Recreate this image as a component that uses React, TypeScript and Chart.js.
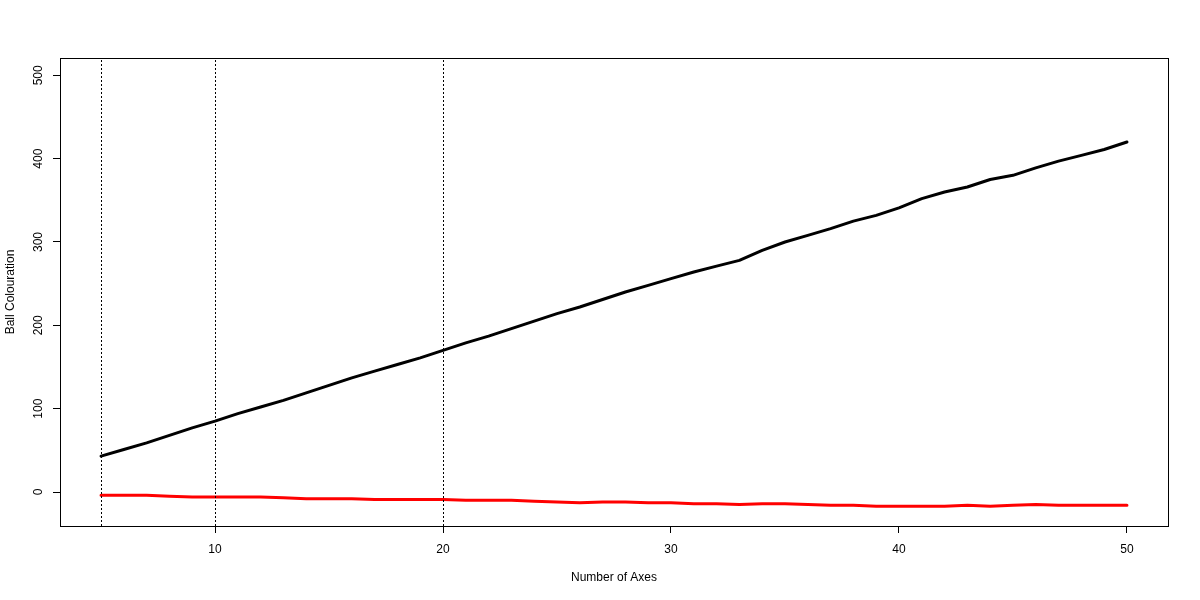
import React, { useEffect, useRef } from "react";
import { Chart, registerables } from "chart.js";

Chart.register(...registerables);

const xValues = [5, 6, 7, 8, 9, 10, 11, 12, 13, 14, 15, 16, 17, 18, 19, 20, 21, 22, 23, 24, 25, 26, 27, 28, 29, 30, 31, 32, 33, 34, 35, 36, 37, 38, 39, 40, 41, 42, 43, 44, 45, 46, 47, 48, 49, 50];
const blackSeries = [43, 51, 59, 68, 77, 85, 94, 102, 110, 119, 128, 137, 145, 153, 161, 170, 179, 187, 196, 205, 214, 222, 231, 240, 248, 256, 264, 271, 278, 290, 300, 308, 316, 325, 332, 341, 352, 360, 366, 375, 380, 389, 397, 404, 411, 420];
const redSeries = [-4, -4, -4, -5, -6, -6, -6, -6, -7, -8, -8, -8, -9, -9, -9, -9, -10, -10, -10, -11, -12, -13, -12, -12, -13, -13, -14, -14, -15, -14, -14, -15, -16, -16, -17, -17, -17, -17, -16, -17, -16, -15, -16, -16, -16, -16];
const verticalLines = [5, 10, 20];
const xTicks = [10, 20, 30, 40, 50];
const yTicks = [0, 100, 200, 300, 400, 500];
const xRange = [3.2, 51.8];
const yRange = [-40.8, 520.8];

const FONT = "'Liberation Sans', Arial, sans-serif";

const boxPlugin = {
  id: "boxPlugin",
  beforeDatasetDraw(chart: any, args: any) {
    const ds = chart.data.datasets[args.index];
    if (!ds.isVline) return;
    const meta = chart.getDatasetMeta(args.index);
    const px = meta.data[0].x;
    const dx = Math.floor(px) + 0.5 - px;
    chart.ctx.save();
    chart.ctx.translate(dx, 0);
  },
  afterDatasetDraw(chart: any, args: any) {
    const ds = chart.data.datasets[args.index];
    if (!ds.isVline) return;
    chart.ctx.restore();
  },
  afterDraw(chart: any) {
    const { ctx, chartArea } = chart;
    ctx.save();
    ctx.strokeStyle = "#000";
    ctx.lineWidth = 1;
    ctx.strokeRect(
      Math.round(chartArea.left) + 0.5,
      Math.round(chartArea.top) + 0.5,
      Math.round(chartArea.right - chartArea.left),
      Math.round(chartArea.bottom - chartArea.top)
    );
    ctx.restore();
  },
};

export default function App() {
  const ref = useRef<HTMLCanvasElement | null>(null);

  useEffect(() => {
    if (!ref.current) return;
    const vlineSets = verticalLines.map((v) => ({
      label: "v" + v,
      isVline: true,
      data: [
        { x: v, y: yRange[0] },
        { x: v, y: yRange[1] },
      ],
      borderColor: "#000",
      borderWidth: 1,
      borderDash: [2, 2],
      pointRadius: 0,
      fill: false,
      order: 0,
    }));
    const chart = new Chart(ref.current, {
      type: "line",
      data: {
        datasets: [
          {
            label: "black",
            data: xValues.map((x, i) => ({ x, y: blackSeries[i] })),
            borderColor: "#000",
            borderWidth: 3,
            pointRadius: 0,
            borderCapStyle: "round",
            borderJoinStyle: "round",
            tension: 0,
            fill: false,
            order: 2,
          },
          {
            label: "red",
            data: xValues.map((x, i) => ({ x, y: redSeries[i] })),
            borderColor: "#ff0000",
            borderWidth: 3,
            pointRadius: 0,
            borderCapStyle: "round",
            borderJoinStyle: "round",
            tension: 0,
            fill: false,
            order: 1,
          },
          ...vlineSets,
        ] as any,
      },
      options: {
        responsive: false,
        animation: false,
        devicePixelRatio: 1,
        layout: { padding: { left: 0, right: 32, top: 58, bottom: 0 } },
        plugins: {
          legend: { display: false },
          tooltip: { enabled: false },
        },
        scales: {
          x: {
            type: "linear",
            min: xRange[0],
            max: xRange[1],
            afterBuildTicks: (scale: any) => {
              scale.ticks = xTicks.map((v) => ({ value: v }));
            },
            afterFit: (scale: any) => {
              scale.height = 74;
            },
            border: { display: false },
            grid: {
              drawOnChartArea: false,
              drawTicks: true,
              tickLength: 7,
              color: "#000",
              lineWidth: 1,
            },
            ticks: {
              color: "#000",
              font: { family: FONT, size: 12 },
              padding: 9,
              maxRotation: 0,
              minRotation: 0,
              callback: (v: any) => String(v),
            },
            title: {
              display: true,
              text: "Number of Axes",
              color: "#000",
              font: { family: FONT, size: 12 },
              padding: { top: 0, bottom: 15 },
            },
          },
          y: {
            type: "linear",
            min: yRange[0],
            max: yRange[1],
            afterBuildTicks: (scale: any) => {
              scale.ticks = yTicks.map((v) => ({ value: v }));
            },
            afterFit: (scale: any) => {
              scale.width = 60;
            },
            border: { display: false },
            grid: {
              drawOnChartArea: false,
              drawTicks: true,
              tickLength: 7,
              color: "#000",
              lineWidth: 1,
            },
            ticks: {
              color: "#000",
              font: { family: FONT, size: 12 },
              padding: 4,
              minRotation: 90,
              maxRotation: 90,
              crossAlign: "center",
              callback: (v: any) => String(v),
            },
            title: {
              display: true,
              text: "Ball Colouration",
              color: "#000",
              font: { family: FONT, size: 12 },
              padding: { top: 3, bottom: 0 },
            },
          },
        },
      } as any,
      plugins: [boxPlugin],
    });
    return () => chart.destroy();
  }, []);

  return (
    <div style={{ position: "absolute", left: 0, top: 0, width: 1200, height: 600, background: "#fff" }}>
      <canvas ref={ref} width={1200} height={600} style={{ width: 1200, height: 600, display: "block" }} />
    </div>
  );
}
